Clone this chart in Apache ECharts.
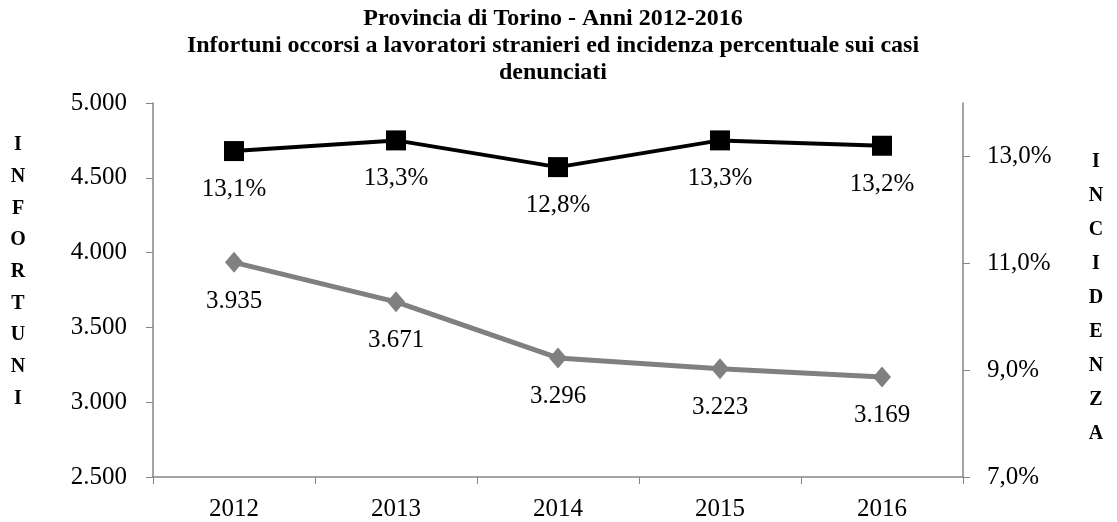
<!DOCTYPE html>
<html>
<head>
<meta charset="utf-8">
<script src="https://cdn.jsdelivr.net/npm/echarts@6/dist/echarts.min.js"></script>
<style>
  html, body { margin: 0; padding: 0; background: #fff; }
  #chart { width: 1117px; height: 522px; }
</style>
</head>
<body>
<div id="chart"></div>
<script>
var anni = ['2012', '2013', '2014', '2015', '2016']
var infortuni = [3935, 3671, 3296, 3223, 3169]
var incidenza = [13.1, 13.3, 12.8, 13.3, 13.2]
var tickIncidenza = [7, 9, 11, 13]
var titolo = 'Provincia di Torino - Anni 2012-2016\nInfortuni occorsi a lavoratori stranieri ed incidenza percentuale sui casi\ndenunciati'
var nomeSx = 'INFORTUNI'
var nomeDx = 'INCIDENZA'

var font = 'Liberation Serif'
var axisGray = '#868686'

// migliaia col punto, decimali con la virgola
function fmtNum(v) {
  return String(v).replace(/\B(?=(\d{3})+(?!\d))/g, '.')
}
function fmtPct(v) {
  return v.toFixed(1).replace('.', ',') + '%'
}

// lettere in colonna per i titoli degli assi
function colonna(testo, x, y0, passo) {
  return testo.split('').map(function(c, i) {
    return {
      type: 'text',
      x: x,
      y: y0 + i * passo,
      style: {
        text: c,
        fill: '#000',
        font: 'bold 20px "' + font + '"',
        align: 'center',
        verticalAlign: 'middle'
      }
    }
  })
}

var myChart = echarts.init(document.getElementById('chart'))

var option = {
  backgroundColor: '#fff',
  animation: false,
  title: {
    text: titolo,
    left: 548,
    top: 0,
    textAlign: 'center',
    textStyle: {
      fontFamily: font,
      fontWeight: 'bold',
      fontSize: 24,
      lineHeight: 27,
      color: '#000'
    }
  },
  graphic: colonna(nomeSx, 18, 145, 31.7).concat(colonna(nomeDx, 1096, 162, 34)),
  grid: {
    left: 153,
    right: 154,
    top: 103,
    bottom: 42,
    containLabel: false
  },
  xAxis: {
    type: 'category',
    data: anni,
    boundaryGap: true,
    axisLine: { lineStyle: { color: axisGray, width: 1.5 } },
    axisTick: { show: true, alignWithLabel: false, length: 7, lineStyle: { color: axisGray } },
    axisLabel: { color: '#000', fontFamily: font, fontSize: 25, margin: 20 }
  },
  yAxis: [{
    type: 'value',
    min: 2500,
    max: 5000,
    interval: 500,
    splitLine: { show: false },
    axisLine: { show: true, lineStyle: { color: axisGray, width: 1.5 } },
    axisTick: { show: true, length: 7, lineStyle: { color: axisGray } },
    axisLabel: {
      color: '#000',
      fontFamily: font,
      fontSize: 25,
      margin: 26,
      formatter: fmtNum
    }
  }, {
    type: 'value',
    min: 7,
    max: 14,
    splitLine: { show: false },
    axisLine: { show: true, lineStyle: { color: axisGray, width: 1.5 } },
    axisTick: { show: true, length: 7, lineStyle: { color: axisGray }, customValues: tickIncidenza },
    axisLabel: {
      color: '#000',
      fontFamily: font,
      fontSize: 25,
      margin: 24,
      customValues: tickIncidenza,
      formatter: fmtPct
    }
  }],
  series: [{
    name: 'Incidenza',
    type: 'line',
    yAxisIndex: 1,
    data: incidenza,
    symbol: 'rect',
    symbolSize: 20,
    lineStyle: { color: '#000', width: 4 },
    itemStyle: { color: '#000' },
    label: {
      show: true,
      position: 'bottom',
      distance: 16,
      color: '#000',
      fontFamily: font,
      fontSize: 25,
      formatter: function(p) { return fmtPct(p.value) }
    },
    z: 3
  }, {
    name: 'Infortuni',
    type: 'line',
    yAxisIndex: 0,
    data: infortuni,
    symbol: 'diamond',
    symbolSize: [18, 21],
    lineStyle: { color: '#808080', width: 5 },
    itemStyle: { color: '#808080' },
    label: {
      show: true,
      position: 'bottom',
      distance: 16,
      color: '#000',
      fontFamily: font,
      fontSize: 25,
      formatter: function(p) { return fmtNum(p.value) }
    },
    z: 2
  }]
}

myChart.setOption(option)
window.addEventListener('resize', () => { myChart.resize() })
</script>
</body>
</html>
